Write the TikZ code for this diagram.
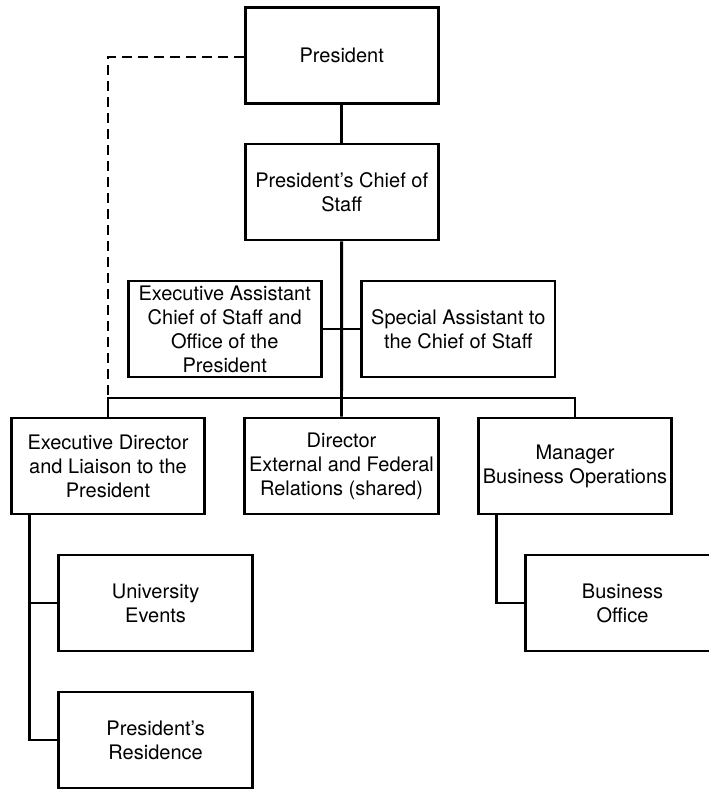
\documentclass[tikz,border=0pt]{standalone}
\usepackage{fontspec}
\setmainfont{TeX Gyre Heros}
\usepackage{tikz}
\usetikzlibrary{calc}

\tikzset{
  unit/.style={draw, line width=2.2pt, minimum width=145pt, minimum height=72pt,
    align=center, inner sep=2pt, font=\fontsize{15}{18}\selectfont},
  link/.style={line width=2.2pt},
  liaison/.style={line width=2.2pt, dash pattern=on 7pt off 5pt}
}

\begin{document}
\begin{tikzpicture}[x=0.75pt,y=-0.75pt]
\useasboundingbox (0,0) rectangle (709,789);
\clip (0,0) rectangle (709,789);
% Top of the office
\node[unit] (pres) at (341.7,55.5) {President};
\node[unit] (cos) at (341.7,192) {President's Chief of\\Staff};

% Assistants beside the trunk
\node[unit] (ea) at (224.7,329) {Executive Assistant\\Chief of Staff and\\Office of the\\President};
\node[unit] (sa) at (458.3,329) {Special Assistant to\\the Chief of Staff};

% Direct reports
\node[unit] (exdir) at (108,466) {Executive Director\\and Liaison to the\\President};
\node[unit] (dir) at (341.5,466) {Director\\External and Federal\\Relations (shared)};
\node[unit] (mgr) at (575,466) {Manager\\Business Operations};

% Second level
\node[unit] (ue) at (155.6,603) {University\\Events};
\node[unit] (res) at (155.6,740) {President's\\Residence};
\node[unit] (bo) at (622.5,603) {Business\\Office};

\coordinate (bus) at (341.7,398);
\coordinate (edleg) at ($(exdir.south west)+(20,0)$);
\coordinate (mgleg) at ($(mgr.south west)+(20,0)$);

\draw[link] (pres.south) -- (cos.north);
\draw[link] (cos.south) -- (dir.north);
\draw[link] (ea.east) -- (sa.west);
\draw[link] (exdir.north) |- (bus) -| (mgr.north);
\draw[link] (edleg) |- (ue.west);
\draw[link] (edleg) |- (res.west);
\draw[link] (mgleg) |- (bo.west);

\draw[liaison] (pres.west |- 0,57) -| (exdir.north |- bus);
\end{tikzpicture}
\end{document}
